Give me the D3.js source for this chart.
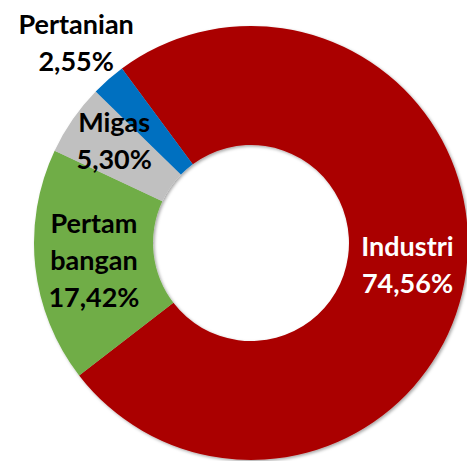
<!DOCTYPE html>
<html>
<head>
<meta charset="utf-8">
<script src="https://cdn.jsdelivr.net/npm/d3@7"></script>
<style>
  body { margin: 0; background: #fff; }
  text { font-family: Lato, "Open Sans", sans-serif; font-weight: bold; }
</style>
</head>
<body>
<div id="container"></div>
<script>
// sektor dan nilai (%)
var sectors = ["Industri", "Pertambangan", "Migas", "Pertanian"];
var values = [74.56, 17.42, 5.30, 2.55];
var labelLines = [["Industri"], ["Pertam", "bangan"], ["Migas"], ["Pertanian"]];
var valueLabels = ["74,56%", "17,42%", "5,30%", "2,55%"];
var colors = ["#aa0000", "#70ad47", "#c0c0c0", "#0070c0"];
var textColors = ["#ffffff", "#000000", "#000000", "#000000"];

var width = 467, height = 461;
var cx = 251, cy = 243;
var outerR = 217, innerR = 98;

var svg = d3.select("#container").append("svg")
    .attr("width", width)
    .attr("height", height);

var defs = svg.append("defs");
defs.append("filter")
    .attr("id", "shadow")
    .attr("x", "-10%").attr("y", "-10%")
    .attr("width", "120%").attr("height", "120%")
  .append("feDropShadow")
    .attr("dx", 1.5).attr("dy", 1.5)
    .attr("stdDeviation", 1.5)
    .attr("flood-color", "#000")
    .attr("flood-opacity", 0.35);

var start = -36.5 * Math.PI / 180;

var pie = d3.pie()
    .sort(null)
    .value(function(d){ return d; })
    .startAngle(start)
    .endAngle(start + 2 * Math.PI);

var arcs = pie(values);

var arc = d3.arc().innerRadius(innerR).outerRadius(outerR);
var labelArc = d3.arc().innerRadius(158).outerRadius(158);
var outsideArc = d3.arc().innerRadius(266).outerRadius(266);

var g = svg.append("g").attr("transform", "translate(" + cx + "," + cy + ")");

g.append("g")
    .attr("filter", "url(#shadow)")
  .selectAll("path")
  .data(arcs)
  .enter().append("path")
    .attr("d", arc)
    .attr("fill", function(d, i){ return colors[i]; });

var lineH = 37;
var fontSize = 27;

arcs.forEach(function(d, i){
    var small = values[i] < 3;
    var p = small ? outsideArc.centroid(d) : labelArc.centroid(d);
    if (sectors[i] == "Migas") { p[0] -= 7; p[1] -= 12; } // digeser sedikit seperti aslinya
    var lines = labelLines[i].concat([valueLabels[i]]);
    var y0 = p[1] - (lines.length - 1) * lineH / 2 + 10;
    var t = g.append("text")
        .attr("text-anchor", "middle")
        .attr("font-size", fontSize)
        .attr("fill", textColors[i]);
    lines.forEach(function(s, k){
        t.append("tspan")
            .attr("x", p[0])
            .attr("y", y0 + k * lineH)
            .text(s);
    });
});
</script>
</body>
</html>
